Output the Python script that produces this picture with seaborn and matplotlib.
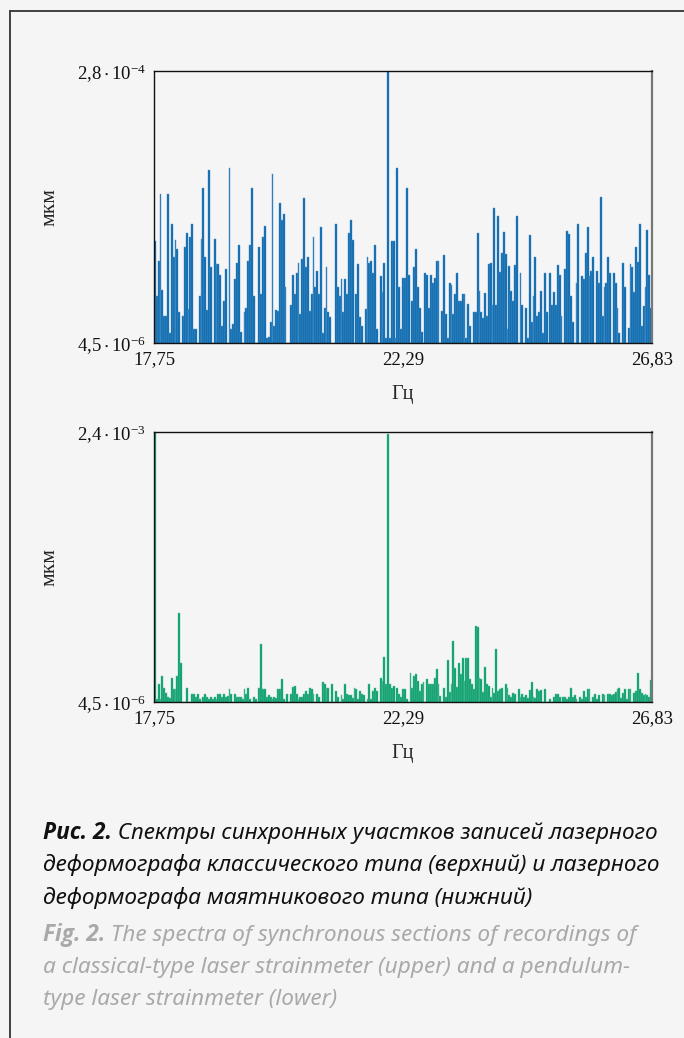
import matplotlib
matplotlib.use("Agg")
import matplotlib.pyplot as plt
from matplotlib.lines import Line2D
import numpy as np
import pandas as pd
import seaborn as sns

W, H = 684, 1038

F_MIN, F_MAX = 17.75, 26.83
X_TICKS = [17.75, 22.29, 26.83]
X_TICK_LABELS = ["17,75", "22,29", "26,83"]

# spectrum amplitudes, µm x 1e-6 (4.5 = bottom of the axis)
upper_um6 = [
    108, 52, 88, 155, 58, 32, 32, 155, 15, 125,
    92, 109, 100, 36, 4.5, 32, 102, 116, 39, 112,
    125, 19, 19, 4.5, 52, 110, 161, 92, 38, 180,
    81, 4.5, 110, 85, 85, 73, 22, 47, 79, 4.5,
    182, 19, 24, 69, 86, 104, 16, 4.5, 36, 40,
    88, 104, 161, 52, 4.5, 4.5, 102, 54, 112, 123,
    10, 11, 26, 176, 22, 38, 37, 146, 129, 135,
    61, 4.5, 4.5, 43, 73, 54, 75, 86, 34, 90,
    151, 81, 92, 37, 54, 112, 61, 77, 54,
    122, 15, 40, 81, 36, 31, 4.5, 4.5, 125, 61,
    52, 69, 36, 69, 54, 116, 129, 109, 4.5, 54,
    85, 31, 22, 4.5, 39, 92, 86, 88, 75, 104,
    19, 4.5, 72, 56, 86, 10, 280, 10, 108, 108,
    10, 182, 61, 19, 70, 70, 161, 73, 4.5, 47,
    81, 100, 61, 40, 16, 4.5, 75, 73, 40,
    73, 65, 70, 88, 88, 4.5, 37, 94, 34, 10,
    65, 63, 34, 54, 75, 47, 47, 54, 54, 10,
    44, 22, 4.5, 36, 36, 116, 57, 36,
    30, 55, 32, 85, 86, 43, 141, 43, 133, 76,
    96, 117, 95, 19, 82, 57, 47, 83, 133, 4.5,
    75, 43, 4.5, 40, 10, 114, 26, 52, 92, 32,
    36, 57, 15, 75, 36, 4.5, 75, 43, 56, 43,
    83, 73, 32, 4.5, 79, 118, 115, 52, 26, 4.5,
    65, 125, 4.5, 72, 69, 96, 122, 72, 77, 92,
    4.5, 77, 65, 152, 32, 61, 65, 92, 75, 4.5,
    75, 65, 40, 15, 4.5, 86, 61, 4.5, 20, 85,
    81, 56, 102, 87, 125, 22, 42, 61, 119, 73,
    40,
]

lower_um6 = [
    2400, 28, 167, 28, 235, 132, 87, 49, 43, 220,
    117, 117, 235, 797, 353, 4.5, 4.5, 132, 4.5, 4.5,
    78, 78, 49, 78, 28, 4.5, 49, 78, 49, 28,
    49, 28, 49, 28, 78, 78, 49, 78, 49, 58,
    117, 78, 4.5, 78, 49, 49, 49, 28, 117, 78,
    132, 28, 4.5, 49, 28, 4.5, 132, 522, 117, 117,
    49, 64, 49, 28, 49, 43, 117, 117, 206, 28,
    4.5, 78, 4.5, 78, 138, 146, 78, 28, 49, 49,
    78, 102, 78, 132, 117, 78, 4.5, 78, 49,
    4.5, 182, 167, 132, 132, 4.5, 167, 4.5, 102, 49,
    4.5, 64, 28, 167, 78, 64, 64, 43, 132, 117,
    28, 102, 78, 64, 4.5, 28, 167, 28, 102, 132,
    102, 4.5, 220, 191, 404, 161, 2379, 161, 132, 146,
    4.5, 132, 78, 49, 117, 117, 28, 4.5, 265,
    132, 235, 250, 191, 102, 161, 182, 4.5, 206, 161,
    167, 167, 214, 294, 167, 58, 4.5, 132, 49, 374,
    96, 161, 546, 309, 138, 353, 250, 392, 191, 392,
    392, 206, 167, 117, 679, 670, 220, 206,
    96, 318, 167, 146, 49, 132, 87, 472, 102, 117,
    132, 4.5, 167, 132, 64, 49, 87, 78, 4.5, 117,
    49, 72, 49, 64, 43, 108, 182, 49, 43, 117,
    102, 108, 4.5, 117, 4.5, 4.5, 28, 4.5, 49, 78,
    78, 49, 4.5, 49, 49, 28, 49, 132, 49, 64,
    28, 4.5, 49, 28, 102, 49, 117, 117, 4.5, 49,
    78, 28, 64, 4.5, 78, 64, 4.5, 78, 78, 64,
    78, 96, 117, 132, 43, 87, 117, 28, 117, 123,
    4.5, 87, 102, 265, 123, 87, 64, 78, 64, 49,
    197,
]

UPPER_YLIM = (4.5e-6, 2.8e-4)
LOWER_YLIM = (4.5e-6, 2.4e-3)
UPPER_YTICK_LABELS = [r"$4{,}5\cdot10^{-6}$", r"$2{,}8\cdot10^{-4}$"]
LOWER_YTICK_LABELS = [r"$4{,}5\cdot10^{-6}$", r"$2{,}4\cdot10^{-3}$"]
Y_LABEL = "мкм"
X_LABEL = "Гц"

CAPTION_RU = [
    ("Рис. 2.", " Спектры синхронных участков записей лазерного"),
    ("", "деформографа классического типа (верхний) и лазерного"),
    ("", "деформографа маятникового типа (нижний)"),
]
CAPTION_EN = [
    ("Fig. 2.", " The spectra of synchronous sections of recordings of"),
    ("", "a classical-type laser strainmeter (upper) and a pendulum-"),
    ("", "type laser strainmeter (lower)"),
]

BG = "#f5f5f5"
CAP_FONT = ["Noto Sans", "DejaVu Sans"]
CAP_BOLD_FONT = ["Open Sans", "Roboto", "DejaVu Sans"]
CAP_SIZE = 16.3

sns.set_style("white")
plt.rcParams.update({
    "font.family": ["Liberation Serif", "DejaVu Serif"],
    "mathtext.fontset": "custom",
    "mathtext.rm": "Liberation Serif",
    "mathtext.it": "Liberation Serif:italic",
    "mathtext.default": "regular",
    "axes.facecolor": BG,
    "figure.facecolor": BG,
})


def draw_spectrum(ax, values, ylim, ytick_labels, fill, edge):
    n = len(values)
    step = (F_MAX - F_MIN) / n
    df = pd.DataFrame({
        "freq": F_MIN + step * (np.arange(n) + 0.5),
        "amp": np.asarray(values, dtype=float) * 1e-6,
    })
    sns.histplot(data=df, x="freq", weights="amp", bins=n, binrange=(F_MIN, F_MAX),
                 ax=ax, element="bars", color=fill, edgecolor=edge,
                 linewidth=0.35, alpha=1.0)
    ax.set_xlim(F_MIN, F_MAX)
    ax.set_ylim(*ylim)
    ax.set_xticks(X_TICKS)
    ax.set_xticklabels(X_TICK_LABELS)
    ax.set_yticks(list(ylim))
    ax.set_yticklabels(ytick_labels)
    ax.tick_params(axis="both", length=0, labelsize=13.5, colors="#111111")
    ax.tick_params(axis="x", pad=6)
    ax.tick_params(axis="y", pad=6)
    ax.set_xlabel(X_LABEL, fontsize=14.5, labelpad=12)
    ax.set_ylabel(Y_LABEL, fontsize=15.5)
    ax.yaxis.set_label_coords(-0.19, 0.5)
    for side in ("left", "top", "bottom"):
        ax.spines[side].set_color("#111111")
        ax.spines[side].set_linewidth(1.0)
    ax.spines["right"].set_color("#777777")
    ax.spines["right"].set_linewidth(1.6)


fig = plt.figure(figsize=(W / 100, H / 100), dpi=100)
ax_top = fig.add_axes([154 / W, 1 - 343 / H, 498 / W, 272 / H])
ax_bot = fig.add_axes([154 / W, 1 - 702 / H, 498 / W, 270 / H])

draw_spectrum(ax_top, upper_um6, UPPER_YLIM, UPPER_YTICK_LABELS, "#0062a8", "#5d9ccf")
draw_spectrum(ax_bot, lower_um6, LOWER_YLIM, LOWER_YTICK_LABELS, "#009a69", "#62c49c")

# page frame (left and top edges)
fig.add_artist(Line2D([10 / W, 10 / W], [0, 1 - 11 / H], transform=fig.transFigure,
                      color="#333333", linewidth=1.3))
fig.add_artist(Line2D([10 / W, 1], [1 - 11 / H, 1 - 11 / H], transform=fig.transFigure,
                      color="#333333", linewidth=1.3))

renderer = fig.canvas.get_renderer()


def caption_line(y_px, bold, rest, color):
    x = 43 / W
    y = 1 - y_px / H
    if bold:
        t = fig.text(x, y, bold, fontsize=CAP_SIZE, family=CAP_BOLD_FONT, style="italic",
                     fontweight="bold", color=color, va="center")
        bb = t.get_window_extent(renderer)
        x = bb.x1 / W
    fig.text(x, y, rest, fontsize=CAP_SIZE, family=CAP_FONT, style="italic",
             color=color, va="center")


for i, (b, r) in enumerate(CAPTION_RU):
    caption_line(833 + i * 32.5, b, r, "#111111")
for i, (b, r) in enumerate(CAPTION_EN):
    caption_line(935 + i * 32.5, b, r, "#a9a9a9")

fig.savefig("out.png", dpi=100, facecolor=BG)
